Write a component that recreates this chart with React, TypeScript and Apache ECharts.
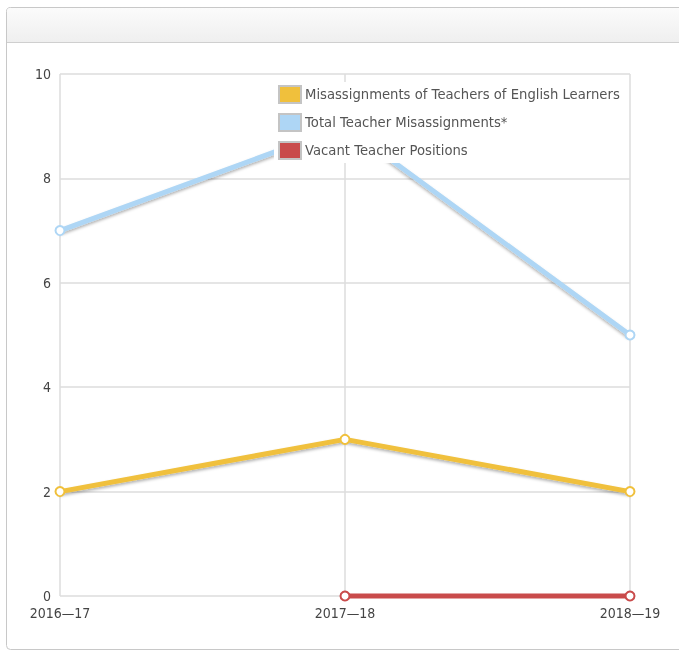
import React, { useEffect, useRef } from "react";
import * as echarts from "echarts";

const categories = ["2016\u201417", "2017\u201418", "2018\u201419"];
const elMisassign = [2, 3, 2];
const totalMisassign = [7, 9, 5];
const vacant: (number | null)[] = [null, 0, 0];
const seriesNames = [
  "Misassignments of Teachers of English Learners",
  "Total Teacher Misassignments*",
  "Vacant Teacher Positions",
];
const colors = ["#f0c03c", "#aed6f5", "#c94b4b"];

const axisFont = "'Liberation Sans Narrow', 'DejaVu Sans Condensed', sans-serif";

export default function App() {
  const ref = useRef<HTMLDivElement>(null);
  useEffect(() => {
    if (!ref.current) return;
    const chart = echarts.init(ref.current, null, { renderer: "svg" });
    const mk = (
      name: string,
      data: (number | null)[],
      color: string,
      z: number,
      shadow: boolean
    ) => ({
      name,
      type: "line",
      data,
      z,
      clip: false,
      symbol: "circle",
      symbolSize: 9,
      showSymbol: true,
      color,
      lineStyle: shadow
        ? {
            width: 5,
            color,
            shadowColor: "rgba(0,0,0,0.3)",
            shadowBlur: 3,
            shadowOffsetY: 2,
          }
        : { width: 5, color },
      itemStyle: { color: "#fff", borderColor: color, borderWidth: 2 },
    });
    chart.setOption({
      animation: false,
      textStyle: { fontFamily: "DejaVu Sans" },
      graphic: [
        {
          type: "rect",
          z: -10,
          silent: true,
          shape: { x: 6.5, y: 7.5, width: 700, height: 642, r: 4 },
          style: { fill: "#fff", stroke: "#c8c8c8", lineWidth: 1 },
        },
        {
          type: "rect",
          z: -9,
          silent: true,
          shape: { x: 7, y: 8, width: 700, height: 34, r: [4, 0, 0, 0] },
          style: {
            fill: new echarts.graphic.LinearGradient(0, 0, 0, 1, [
              { offset: 0, color: "#fbfbfb" },
              { offset: 1, color: "#efefef" },
            ]),
          },
        },
        {
          type: "line",
          z: -8,
          silent: true,
          shape: { x1: 7, y1: 42.5, x2: 700, y2: 42.5 },
          style: { stroke: "#cfcfcf", lineWidth: 1 },
        },
      ],
      grid: { left: 60, top: 74, width: 570, height: 522, containLabel: false },
      legend: {
        orient: "vertical",
        left: 274,
        top: 82,
        padding: [3, 4, 3, 4],
        backgroundColor: "#fff",
        itemWidth: 22,
        itemHeight: 17,
        itemGap: 9,
        icon: "rect",
        itemStyle: { borderColor: "#c4c4c4", borderWidth: 2 },
        textStyle: { color: "#555", fontSize: 13.2, fontFamily: "DejaVu Sans", padding: [0, 0, 0, -1] },
        data: seriesNames.map((n, i) => ({ name: n, itemStyle: { color: colors[i] } })),
        z: 10,
      },
      xAxis: {
        type: "category",
        data: categories,
        boundaryGap: false,
        axisLine: { show: false },
        axisTick: { show: false },
        splitLine: { show: true, lineStyle: { color: "#dcdcdc", width: 1.5 } },
        axisLabel: { color: "#444", fontSize: 14, margin: 10, fontFamily: axisFont },
      },
      yAxis: {
        type: "value",
        min: 0,
        max: 10,
        interval: 2,
        axisLine: { show: false },
        axisTick: { show: false },
        splitLine: { show: true, lineStyle: { color: "#dcdcdc", width: 1.5 } },
        axisLabel: { color: "#444", fontSize: 14, margin: 9, fontFamily: axisFont },
      },
      series: [
        mk(seriesNames[0], elMisassign, colors[0], 3, true),
        mk(seriesNames[1], totalMisassign, colors[1], 2, true),
        mk(seriesNames[2], vacant, colors[2], 4, false),
      ],
    });
    return () => chart.dispose();
  }, []);
  return (
    <div
      ref={ref}
      style={{ position: "fixed", left: 0, top: 0, width: 679, height: 653 }}
    />
  );
}
